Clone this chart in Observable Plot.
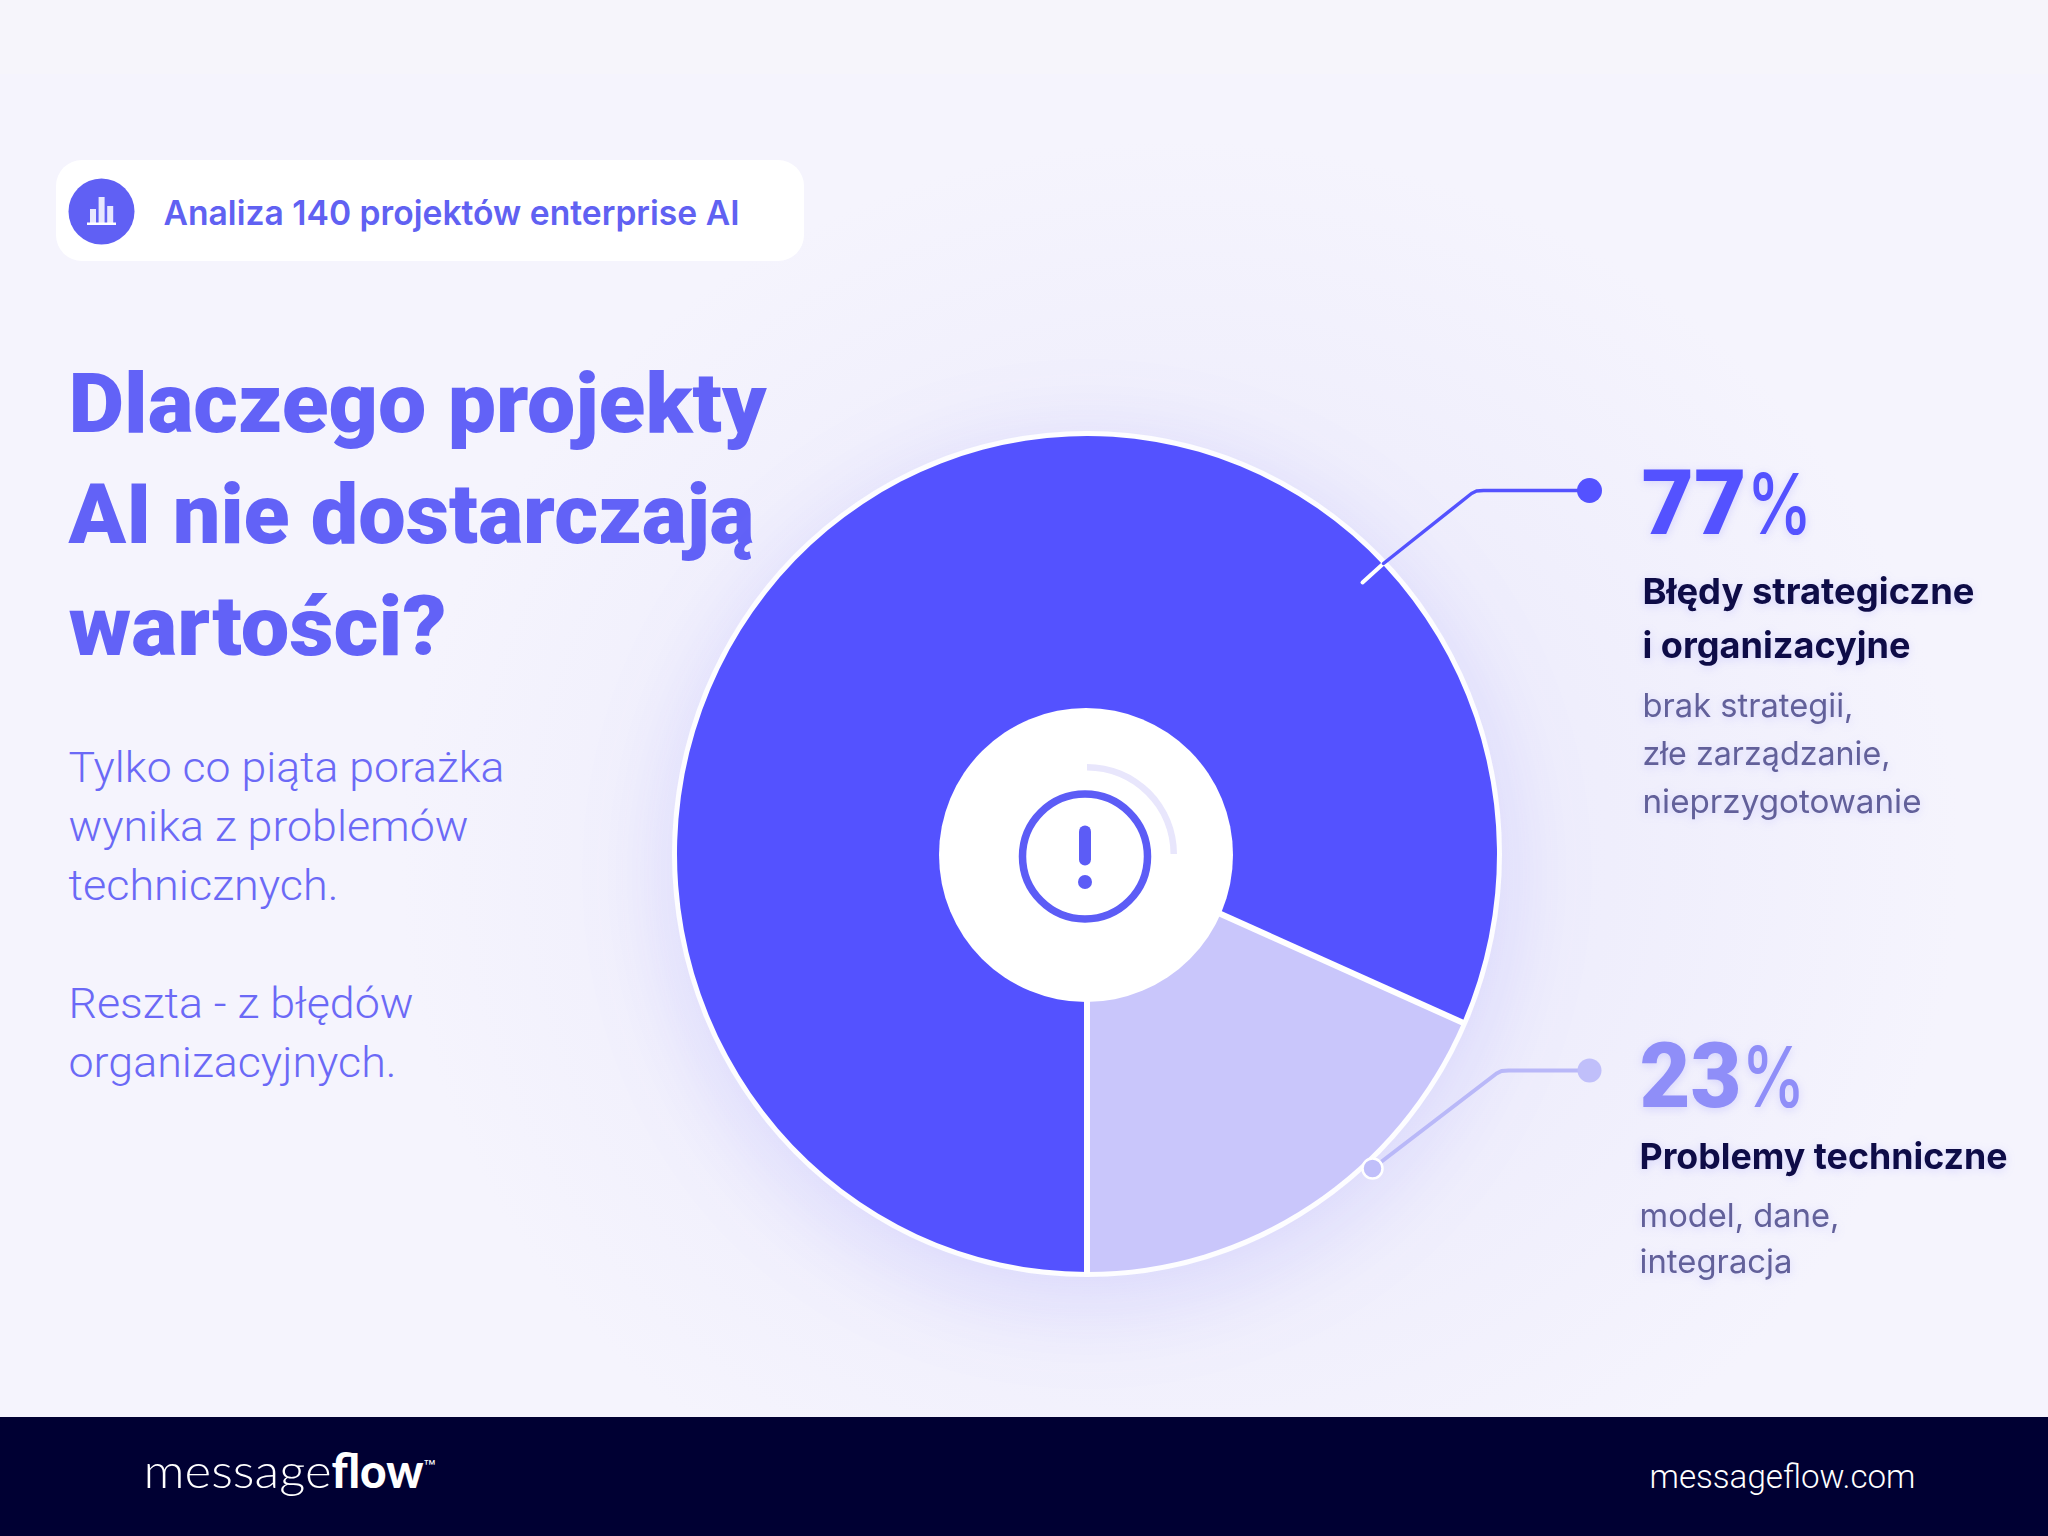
<!DOCTYPE html>
<html lang="pl">
<head>
<meta charset="utf-8">
<script src="https://cdn.jsdelivr.net/npm/d3@7"></script>
<script src="https://cdn.jsdelivr.net/npm/@observablehq/plot@0.6"></script>
<style>
html,body{margin:0;padding:0;background:#f4f3fd}
svg{display:block}
</style>
</head>
<body>
<div id="chart"></div>
<script>
// ---- Chart values ----
const categories = ["Błędy strategiczne i organizacyjne", "Problemy techniczne"];
const percentLabels = [77, 23];            // the printed figures
// Slice sizes as drawn in the picture: the light wedge spans about 66° of the circle,
// although it is labelled 23 %.
const drawnShares = [81.6, 18.4];
const headingLines = ["Dlaczego projekty", "AI nie dostarczają", "wartości?"];
const bodyLines = ["Tylko co piąta porażka", "wynika z problemów", "technicznych.", "Reszta - z błędów", "organizacyjnych."];
const badgeText = "Analiza 140 projektów enterprise AI";
const detailLines = [["brak strategii,", "złe zarządzanie,", "nieprzygotowanie"], ["model, dane,", "integracja"]];
const headLines = [["Błędy strategiczne", "i organizacyjne"], ["Problemy techniczne"]];
const badgeBars = [14, 26, 17];

// ---- Layout and styles ----
const W = 2048, H = 1536;
const C = {x: 1087, y: 854, rx: 410, ry: 418, inner: 147};
const dark = "#5452ff", light = "#c9c6fb", ink = "#0e0c47", sub = "#62609a";
const textGlow = "drop-shadow(0 2px 5px rgba(98,95,255,.20))";
const head = '"Roboto"', ui = '"Inter"';

// One text element; `parts` splits it into differently styled runs of the same line.
function T(s, x, y, w, o) {
  const {filter, parts, ...rest} = o;
  return Plot.text([s], {
    x: () => x, y: () => y, text: d => d, textAnchor: "start", lineAnchor: "bottom", ...rest,
    render(i, sc, v, d, c, next) {
      const g = next(i, sc, v, d, c);
      g.querySelectorAll("text").forEach(t => {
        if (parts) {
          t.textContent = "";
          for (const p of parts) {
            const ts = document.createElementNS("http://www.w3.org/2000/svg", "tspan");
            ts.textContent = p.s;
            ts.setAttribute("textLength", p.w);
            ts.setAttribute("lengthAdjust", "spacingAndGlyphs");
            if (p.size) ts.setAttribute("font-size", p.size);
            if (p.weight) ts.setAttribute("font-weight", p.weight);
            if (p.dy) ts.setAttribute("dy", p.dy);
            if (p.font) ts.setAttribute("font-family", p.font);
            t.append(ts);
          }
        } else if (w) { t.setAttribute("textLength", w); t.setAttribute("lengthAdjust", "spacingAndGlyphs"); }
      });
      if (filter) g.style.filter = filter;
      return g;
    }
  });
}

// Pie: d3.pie turns the shares into angles, d3.arc draws them, Plot's scales place them.
function pieMark(index, {x, y}) {
  const slices = d3.pie().sort(null).startAngle(Math.PI).endAngle(3 * Math.PI)(drawnShares);
  const arc = d3.arc().innerRadius(0).outerRadius(C.rx);
  const g = d3.create("svg:g").attr("transform", `translate(${x(C.x)},${y(C.y)}) scale(1,${C.ry / C.rx})`);
  g.style("filter", "drop-shadow(0 20px 46px rgba(84,82,255,.15))");
  g.append("circle").attr("r", C.rx + 5).attr("fill", "#fdfdff");
  g.selectAll("path").data(slices).join("path")
    .attr("d", arc).attr("fill", (d, i) => [dark, light][i]);
  // white dividers between slices
  for (const d of slices) {
    const a = d.startAngle;
    g.append("line").attr("x1", 0).attr("y1", 0)
      .attr("x2", (C.rx + 2) * Math.sin(a)).attr("y2", -(C.rx + 2) * Math.cos(a))
      .attr("stroke", "#fff").attr("stroke-width", 6);
  }
  return g.node();
}
function centerMark(index, {x, y}) {
  const g = d3.create("svg:g");
  g.append("circle").attr("cx", x(C.x - 1)).attr("cy", y(C.y + 1)).attr("r", C.inner).attr("fill", "#fff");
  g.append("path").attr("transform", `translate(${x(1087)},${y(854)})`)
    .attr("d", d3.arc()({innerRadius: 83.5, outerRadius: 90, startAngle: 0, endAngle: Math.PI / 2}))
    .attr("fill", "#e8e6fc");
  return g.node();
}

const leader1 = [[1362,582],[1383,563]].map(([x,y])=>({x,y}));
const leader1b = [[1383,563],[1471,493],[1476,490.5],[1483,490],[1589,490]].map(([x,y])=>({x,y}));
const leader2 = [[1372,1168],[1496,1073],[1501,1070.5],[1508,1070],[1589,1070]].map(([x,y])=>({x,y}));
const lineOpts = {x: "x", y: "y"};
const lh = 111.5;
const bodyStyle = {fontFamily: head, fontSize: 42, fontWeight: 350, fill: "#6b69f6"};
const titleStyle = {fontFamily: head, fontSize: 83, fontWeight: 900, fill: "#6262f7"};

const plot = Plot.plot({
  width: W, height: H, margin: 0,
  x: {domain: [0, W], range: [0, W], axis: null},
  y: {domain: [0, H], range: [0, H], axis: null},
  style: {
    background: "radial-gradient(ellipse 780px 720px at 1180px 860px, #e9e8fc 0%, #efeefc 55%, #f5f4fd 100%)",
    overflow: "visible"
  },
  marks: [
    Plot.rect([0], {x1: () => 0, x2: () => W, y1: () => 0, y2: () => 74, fill: "#f6f5fb"}),
    // footer
    Plot.rect([0], {x1: () => 0, x2: () => W, y1: () => 1417, y2: () => H, fill: "#000033"}),
    // badge
    Plot.rect([0], {x1: () => 56, x2: () => 804, y1: () => 160, y2: () => 261, fill: "#fff", r: 26}),
    Plot.dot([0], {x: () => 101, y: () => 211, r: 33, fill: "#6060f4"}),
    Plot.rect(badgeBars, {x1: (d, i) => 90 + i * 8.6, x2: (d, i) => 96 + i * 8.6, y1: d => 223 - d, y2: () => 223, fill: "#fff", fillOpacity: 0.85}),
    Plot.rect([0], {x1: () => 87, x2: () => 116, y1: () => 222.5, y2: () => 225, fill: "#fff"}),
    T(badgeText, 163, 224, 576, {fontFamily: ui, fontSize: 34, fontWeight: 600, fill: "#6061f2"}),
    // heading
    T(headingLines[0], 68, 431, 698, titleStyle),
    T(headingLines[1], 68, 431 + lh, 686, titleStyle),
    T(headingLines[2], 68, 431 + 2 * lh, 378, titleStyle),
    // body
    T(bodyLines[0], 68, 781, 436, bodyStyle),
    T(bodyLines[1], 68, 840, 400, bodyStyle),
    T(bodyLines[2], 68, 899, 270, bodyStyle),
    T(bodyLines[3], 68, 1017, 345, bodyStyle),
    T(bodyLines[4], 68, 1076, 328, bodyStyle),
    // pie
    pieMark,
    centerMark,
    // centre icon
    Plot.dot([0], {x: () => 1084.5, y: () => 856, r: 62.5, stroke: "#5c5cf6", strokeWidth: 7.5, fill: "none"}),
    Plot.line([{x:1084.5,y:831},{x:1084.5,y:859}], {...lineOpts, stroke: "#5c5cf6", strokeWidth: 12, strokeLinecap: "round"}),
    Plot.dot([0], {x: () => 1084.5, y: () => 881.5, r: 7, fill: "#5c5cf6"}),
    // leaders
    Plot.line(leader1, {...lineOpts, stroke: "#fff", strokeWidth: 4}),
    Plot.line(leader1b, {...lineOpts, stroke: dark, strokeWidth: 3.5, strokeLinejoin: "round"}),
    Plot.dot([0], {x: () => 1589, y: () => 490, r: 12.5, fill: dark}),
    Plot.line(leader2, {...lineOpts, stroke: "#b9b8f8", strokeWidth: 4, strokeLinejoin: "round"}),
    Plot.dot([0], {x: () => 1589, y: () => 1070, r: 12, fill: "#c0bffa"}),
    Plot.dot([0], {x: () => 1372, y: () => 1168, r: 10, fill: "#c0bffa", stroke: "#fff", strokeWidth: 2.5}),
    // right labels: first category
    T(percentLabels[0] + "%", 1641, 533, 0, {fontFamily: head, fontSize: 91, fontWeight: 900, fill: dark, filter: textGlow,
      parts: [{s: String(percentLabels[0]), w: 105}, {s: "%", w: 66, size: 84, weight: 500, font: "Inter"}]}),
    T(headLines[0][0], 1642, 603, 332, {fontFamily: ui, fontSize: 36, fontWeight: 700, fill: ink, filter: textGlow}),
    T(headLines[0][1], 1642, 657, 268, {fontFamily: ui, fontSize: 36, fontWeight: 700, fill: ink, filter: textGlow}),
    T(detailLines[0][0], 1642, 716, 211, {fontFamily: ui, fontSize: 33, fontWeight: 400, fill: sub, filter: textGlow}),
    T(detailLines[0][1], 1642, 764, 248, {fontFamily: ui, fontSize: 33, fontWeight: 400, fill: sub, filter: textGlow}),
    T(detailLines[0][2], 1642, 812, 279, {fontFamily: ui, fontSize: 33, fontWeight: 400, fill: sub, filter: textGlow}),
    // right labels: second category
    T(percentLabels[1] + "%", 1639, 1106, 0, {fontFamily: head, fontSize: 91, fontWeight: 900, fill: "#8f8ef8", filter: textGlow,
      parts: [{s: String(percentLabels[1]), w: 102}, {s: "%", w: 64, size: 84, weight: 500, font: "Inter"}]}),
    T(headLines[1][0], 1639, 1168, 368, {fontFamily: ui, fontSize: 36, fontWeight: 700, fill: ink, filter: textGlow}),
    T(detailLines[1][0], 1639, 1226, 200, {fontFamily: ui, fontSize: 33, fontWeight: 400, fill: sub, filter: textGlow}),
    T(detailLines[1][1], 1639, 1272, 153, {fontFamily: ui, fontSize: 33, fontWeight: 400, fill: sub, filter: textGlow}),
    // footer text
    T("messageflow™", 143, 1487, 0, {fontFamily: '"Lato"', fontSize: 47, fontWeight: 300, fill: "#fff",
      parts: [{s: "message", w: 188}, {s: "flow", w: 92, weight: 900}, {s: "™", w: 12, size: 18, weight: 400, dy: -14, font: "Inter"}]}),
    T("messageflow.com", 1649, 1487, 266, {fontFamily: head, fontSize: 33, fontWeight: 350, fill: "#fff"})
  ]
});
document.getElementById("chart").append(plot);
</script>
</body>
</html>
